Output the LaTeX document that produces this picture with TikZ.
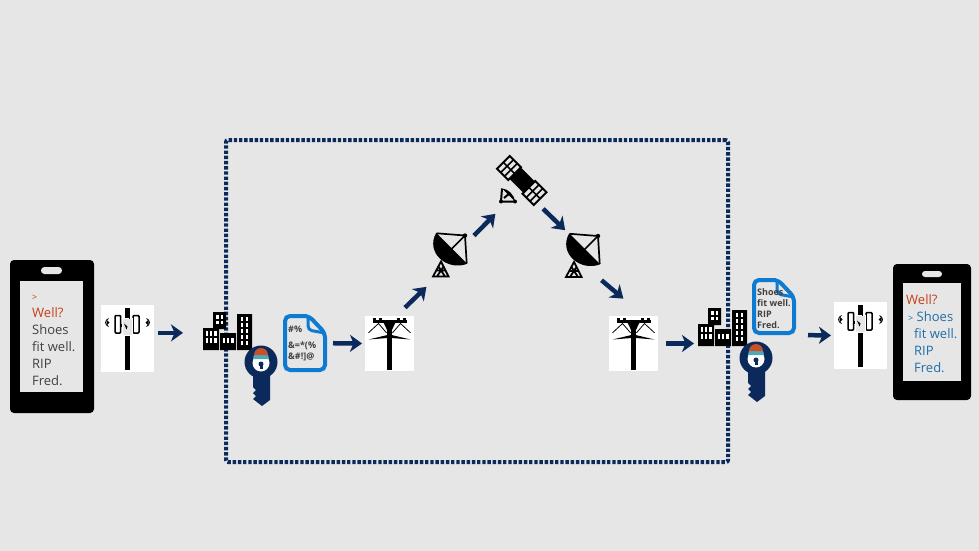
\documentclass[tikz,border=0pt]{standalone}
\usepackage{fontspec}
\setmainfont{Open Sans}
\usetikzlibrary{arrows.meta,shapes.geometric}
\definecolor{slidegrey}{HTML}{E6E6E6}
\definecolor{regnavy}{HTML}{0B2A5B}
\definecolor{docblue}{HTML}{0F7BD0}
\definecolor{msgred}{HTML}{C43E1C}
\definecolor{msgblue}{HTML}{1F6FA8}
\definecolor{msggrey}{HTML}{404040}
\definecolor{keyteal}{HTML}{4FA8B8}
\definecolor{keyred}{HTML}{C8502A}

\begin{document}
\begin{tikzpicture}[
x=1pt,y=-1pt,
iconbox/.style={inner sep=0pt,outer sep=0pt,minimum width=#1},
whitebox/.style={iconbox=#1,fill=white},
arr/.style={-{Stealth[length=12pt,width=17pt,inset=3.5pt]},line width=4.5pt,draw=regnavy},
zonebox/.style={draw=regnavy,line width=4pt,dash pattern=on 3.4pt off 1.8pt,rounded corners=2pt,
inner sep=0pt,minimum width=502pt,minimum height=322pt},
msg/.style={font=\fontsize{13}{17}\selectfont,align=left,inner sep=0pt,anchor=north west,text=msggrey},
doctext/.style={font=\fontsize{9}{11}\selectfont\bfseries,align=left,inner sep=0pt,anchor=north west,text=msggrey},
tower/.pic={
\fill (-2.2,-31) rectangle (2.2,31);
\draw[fill=white,line width=1.5pt,rounded corners=1pt] (-12.5,-23) rectangle (-6.8,-5.5);
\draw[fill=white,line width=1.5pt,rounded corners=1pt] (5.5,-23) rectangle (11.5,-5.5);
\fill (-6.8,-15) rectangle (5.5,-12);
\draw[fill=slidegrey,draw=white,line width=1pt] (-5.5,-20.5) rectangle (4.5,-3.5);
\fill (-3.5,-15) -- (0,-12) -- (-1,-9) -- cycle;
\fill (1.5,-24) rectangle (2.2,-20);
\foreach \s in {-1,1} {
\draw[line width=.8pt] (\s*19,-20) .. controls (\s*23,-18) and (\s*23,-14) .. (\s*19,-12);
\fill (\s*21,-19) -- (\s*18,-16) -- (\s*21,-13) -- cycle;
}
},
pole/.pic={
\fill (-2.2,-20) rectangle (2.2,26);
\fill (-17,-23.5) rectangle (17,-20.5);
\fill (-6,-21) -- (6,-21) -- (2.2,-13) -- (-2.2,-13) -- cycle;
\foreach \s in {-15,-9,9,15} \fill (\s-1.2,-26) rectangle (\s+1.2,-23);
\draw[line width=.8pt] (-11,-20) -- (-21,-10.7) (-11,-20) -- (-3,-10.7) (11,-20) -- (21,-10.7) (11,-20) -- (3,-10.7);
\fill (-21,-4) -- (-2,-8.5) -- (-2,-5.5) -- cycle (21,-4) -- (2,-8.5) -- (2,-5.5) -- cycle;
},
dish/.pic={
\fill (-13.8,-22.7) .. controls (-25,-3) and (-3,16) .. (17.2,8.3) -- cycle;
\draw[line width=1.7pt] (-13.3,-22.2) -- (15,-20) -- (16.7,7.8) (15,-20) -- (1,-6);
\fill (15,-20) circle (2.2);
\draw[line width=1.8pt,line join=miter] (-17,21) -- (-1.5,21) -- (-9,6) -- cycle (-14,15) -- (-4.5,15) (-13,21) -- (-6.5,11) (-5,21) -- (-11.5,11);
},
satellite/.pic={
\fill[rounded corners=2pt,rotate=-45] (-13,-8) rectangle (13,8);
\foreach \c in {(-13,-12),(12.5,13)} {
\begin{scope}[shift={\c},rotate=45]
\draw[fill=slidegrey,line width=2pt] (-9,-8) rectangle (9,8);
\draw[line width=1.6pt] (-9,-2.7) -- (9,-2.7) (-9,2.7) -- (9,2.7) (0,-8) -- (0,8);
\end{scope}
}
\fill (-20,8.5) .. controls (-14,9) and (-8,14) .. (-7,21.5) -- cycle;
\draw[line width=2pt] (-20,8.5) -- (-21,21.5) -- (-7,21.5) (-18,18) -- (-12,13);
\fill (-21,21.5) circle (2) (-7,21.5) circle (2);
},
city/.pic={
\fill (0,16) rectangle (16,38) (10,0) rectangle (23,17) (17,21) rectangle (33,38) (34,2) rectangle (49,38);
\foreach \wx in {2.5,6.8,11} \foreach \wy in {19,26}
\fill[white] (\wx,\wy) rectangle +(2.6,4.5);
\foreach \wx in {19.5,23.8,28} \foreach \wy in {26}
\fill[white] (\wx,\wy) rectangle +(2.6,5);
\foreach \wx in {12.8,17.5} \foreach \wy in {3,8.5}
\fill[white] (\wx,\wy) rectangle +(2.8,3.5);
\foreach \wx in {37.5,42.5} \foreach \wy in {5,11,17,23,29}
\fill[white] (\wx,\wy) rectangle +(2.6,3.6);
},
keyicon/.pic={
\fill[regnavy] (0,0) circle (16.5);
\fill[regnavy] (-8,12) -- (-8,25) -- (-5,28) -- (-8,31) -- (-5,34) -- (-8,37) -- (1,44) -- (9,38) -- (9,12) -- cycle;
\fill[white] (0,1) circle (8.5);
\fill[keyteal] (-8,-3) arc (180:360:8) -- cycle;
\fill[keyred] (-7,-7) arc (180:360:7) -- cycle;
\fill[regnavy] (0,2) circle (2.5);
\fill[regnavy] (-1.5,3) rectangle (1.5,7);
},
docicon/.pic={
\draw[docblue,line width=4pt,rounded corners=5pt,fill=slidegrey]
(2,-#1) -- (-20,-#1) -- (-20,#1) -- (20,#1) -- (20,-#1+17) -- (4,-#1) -- (2,-#1);
\draw[docblue,line width=3pt,rounded corners=4pt] (3,-#1+1) -- (3,-#1+14) -- (20,-#1+17);
}
]
\fill[slidegrey] (0,0) rectangle (979,551);
\useasboundingbox (0,0) rectangle (979,551);

\node[zonebox] (zone) at (477,301) {};

\fill[rounded corners=4pt] (10,260) rectangle (94,413);
\fill[slidegrey] (20,281) rectangle (83,392);
\fill[slidegrey,rounded corners=3.4pt] (41,267) rectangle (62,274);
\node[msg] (msgA) at (32,295) {{\color{msgred}\fontsize{9}{17}\selectfont >}\\ \textcolor{msgred}{Well?}\\ Shoes\\ fit well.\\ RIP\\ Fred.};

\fill[rounded corners=4pt] (893,264) rectangle (971,400);
\fill[slidegrey] (903,283) rectangle (961,381);
\fill[slidegrey,rounded corners=3pt] (922,271) rectangle (942,277);
\node[msg,text=msgblue] (msgB) at (906,294) {\textcolor{msgred}{Well?}\\ \hspace*{2pt}{\fontsize{9}{17}\selectfont >} Shoes\\ \hspace*{8pt}fit well.\\ \hspace*{8pt}RIP\\ \hspace*{8pt}Fred.};

\node[whitebox=53pt,minimum height=67pt] (towerA) at (127.5,338.5) {};
\pic at (towerA) {tower};
\node[whitebox=53pt,minimum height=67pt] (towerB) at (860.5,335.5) {};
\pic at (towerB) {tower};

\node[whitebox=49pt,minimum height=55pt] (poleA) at (389.5,343.5) {};
\pic at (poleA) {pole};
\node[whitebox=49pt,minimum height=55pt] (poleB) at (633.5,343.5) {};
\pic at (poleB) {pole};

\node[iconbox=49pt,minimum height=38pt] (cityA) at (227.5,331) {};
\pic at (cityA.north west) {city};
\node[iconbox=49pt,minimum height=38pt] (cityB) at (722.5,327) {};
\pic at (cityB.north west) {city};

\coordinate (keyA) at (261,362);
\pic at (keyA) {keyicon};
\coordinate (keyB) at (756,358);
\pic at (keyB) {keyicon};

\node[iconbox=44pt,minimum height=58pt] (docA) at (305,343) {};
\pic at (docA) {docicon=27};
\node[doctext] (docAtxt) at (288,326) {\#\%\\[5pt] \&=*(\%\\ \&\#!]@};
\node[iconbox=44pt,minimum height=57pt] (docB) at (774,306.5) {};
\pic at (docB) {docicon=26.5};
\node[doctext] (docBtxt) at (757,288) {Shoes\\ fit well.\\ RIP\\ Fred.};

\node[iconbox=34pt,minimum height=46pt] (dishA) at (450,255.5) {};
\pic at (dishA) {dish};
\node[iconbox=34pt,minimum height=46pt] (dishB) at (583,256) {};
\pic at (dishB) {dish};
\node[iconbox=52pt,minimum height=52pt] (sat) at (522,180) {};
\pic at (sat) {satellite};

\draw[arr,shorten <=4pt,shorten >=20pt] (towerA.12) -- (towerA.12 -| cityA.west);
\draw[arr,shorten <=6pt,shorten >=3pt] (docA) -- (poleA.west);
\draw[arr,shorten <=12pt,shorten >=12pt] (poleA.76) -- (dishA.237);
\draw[arr,shorten <=10pt,shorten >=11pt] (dishA.37) -- (sat.234);
\draw[arr,shorten <=4pt,shorten >=4pt] (sat.-55) -- (dishB.123);
\draw[arr,shorten <=2pt,shorten >=27pt] (dishB.south east) -- (poleB.69);
\draw[arr,shorten <=8pt,shorten >=4pt] (poleB.east) -- (poleB.east -| cityB.west);
\draw[arr,shorten <=12pt,shorten >=3pt] (docB.south east) -- (towerB.west);
\end{tikzpicture}
\end{document}
